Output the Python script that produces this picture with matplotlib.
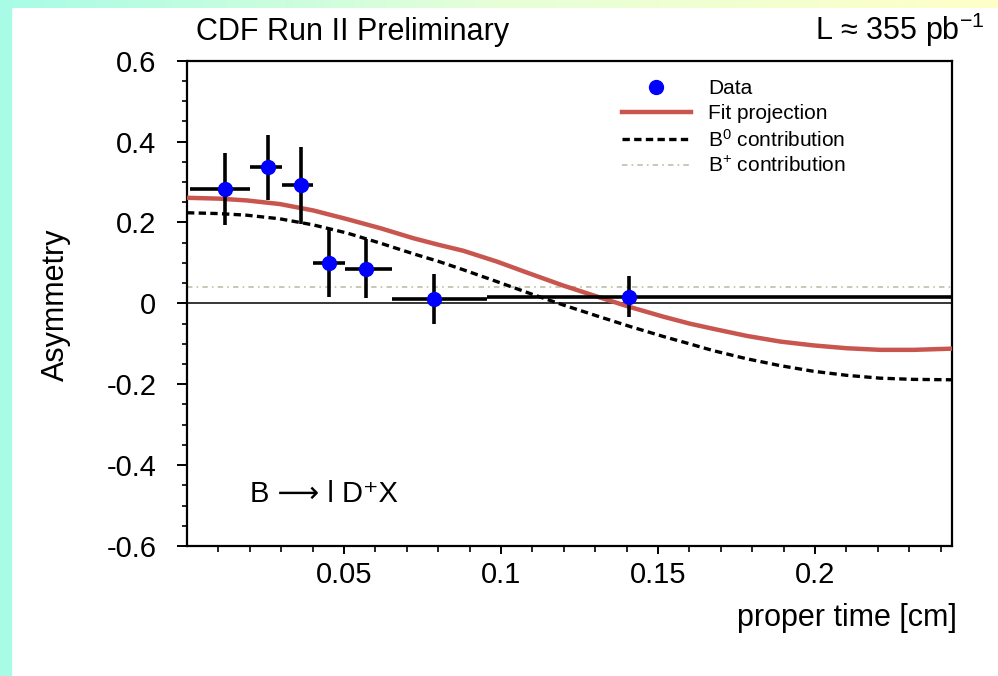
import matplotlib
matplotlib.use("Agg")
import matplotlib.pyplot as plt
import numpy as np
from matplotlib.lines import Line2D
from matplotlib.patches import Rectangle
from matplotlib.colors import LinearSegmentedColormap

plt.rcParams['font.family'] = ['Liberation Sans', 'DejaVu Sans']
plt.rcParams['mathtext.fontset'] = 'custom'
plt.rcParams['mathtext.rm'] = 'Liberation Sans'
plt.rcParams['mathtext.it'] = 'Liberation Sans:italic'

# measured points (proper time bins)
t = np.array([0.0121, 0.0259, 0.0362, 0.0453, 0.0570, 0.0787, 0.1407])
asym = np.array([0.283, 0.336, 0.292, 0.0995, 0.0854, 0.011, 0.0168])
asym_err = np.array([0.089, 0.080, 0.095, 0.085, 0.073, 0.061, 0.051])
t_lo = np.array([0.001, 0.0201, 0.0302, 0.0402, 0.0503, 0.0652, 0.0955])
t_hi = np.array([0.0201, 0.0302, 0.0402, 0.0503, 0.0652, 0.0955, 0.2436])

# curves
curve_t = [0.0, 0.010, 0.019, 0.0296, 0.0402, 0.0509, 0.0615, 0.0721, 0.080,
           0.088, 0.0986, 0.109, 0.1198, 0.1305, 0.141, 0.1517, 0.160, 0.1676,
           0.1782, 0.1889, 0.1995, 0.2101, 0.2207, 0.2313, 0.2436]
fit_proj = [0.261, 0.259, 0.2545, 0.2455, 0.2297, 0.2084, 0.186, 0.161, 0.145,
            0.130, 0.1035, 0.074, 0.044, 0.017, -0.009, -0.033, -0.050, -0.063,
            -0.0804, -0.0945, -0.104, -0.111, -0.115, -0.115, -0.112]
b0_contrib = [0.224, 0.222, 0.218, 0.209, 0.194, 0.174, 0.149, 0.1225, 0.104,
              0.083, 0.054, 0.025, -0.004, -0.031, -0.057, -0.082, -0.100, -0.117,
              -0.137, -0.154, -0.168, -0.178, -0.185, -0.188, -0.189]
bplus_t = [0.0, 0.2436]
bplus_contrib = [0.04, 0.04]

xticks = [0.05, 0.1, 0.15, 0.2]
xticklabels = ["0.05", "0.1", "0.15", "0.2"]
yticks = [-0.6, -0.4, -0.2, 0.0, 0.2, 0.4, 0.6]
yticklabels = ["-0.6", "-0.4", "-0.2", "0", "0.2", "0.4", "0.6"]

red = "#c9554f"
bplus_col = "#c4c4ae"
dash_b0 = (0, (2.2, 1.3))
dash_bplus = (0, (3, 2.3, 0.9, 2.3))

fig = plt.figure(figsize=(9.98, 6.76), dpi=100)
fig.patch.set_facecolor("white")

# slide decoration: cyan strip on the left, gradient strip on top
fig.patches.append(Rectangle((0, 0), 11 / 998, 1, transform=fig.transFigure,
                             color="#a8fce6", zorder=0))
bg = fig.add_axes([0, 1 - 8 / 676, 1, 8 / 676], zorder=0)
cmap = LinearSegmentedColormap.from_list("strip", ["#a8fce6", "#e6ffd8", "#ffffc8"])
bg.imshow(np.linspace(0, 1, 256).reshape(1, -1), aspect="auto", cmap=cmap)
bg.axis("off")

ax = fig.add_axes([187 / 998, 130 / 676, 765 / 998, 485.3 / 676])

ax.axhline(0, color="black", lw=1.1, zorder=1)
ax.plot(bplus_t, bplus_contrib, color=bplus_col, lw=1.3, linestyle=dash_bplus, zorder=2)
ax.plot(curve_t, b0_contrib, color="black", lw=2.4, linestyle=dash_b0, zorder=3)
ax.plot(curve_t, fit_proj, color=red, lw=3.2, zorder=4)
ax.errorbar(t, asym, xerr=[t - t_lo, t_hi - t], yerr=asym_err, fmt="o",
            color="#0000ff", ecolor="black", elinewidth=2.6, capsize=0,
            markersize=10, zorder=5)

ax.set_xlim(0, 0.2436)
ax.set_ylim(-0.6, 0.6)
ax.set_xticks(xticks)
ax.set_xticklabels(xticklabels)
ax.set_xticks(np.arange(0.01, 0.241, 0.01), minor=True)
ax.set_yticks(yticks)
ax.set_yticklabels(yticklabels)
ax.set_yticks(np.arange(-0.55, 0.6, 0.05), minor=True)
ax.tick_params(axis="x", which="major", direction="out", length=6, width=1.4,
               pad=4.5, labelsize=21)
ax.tick_params(axis="x", which="minor", direction="out", length=4, width=1.2)
ax.tick_params(axis="y", which="major", direction="out", length=7, width=1.4,
               pad=15, labelsize=21)
ax.tick_params(axis="y", which="minor", direction="out", length=3.6, width=1.2)
for s in ax.spines.values():
    s.set_linewidth(1.6)

# legend
handles = [
    Line2D([], [], marker="o", color="#0000ff", linestyle="none", markersize=10),
    Line2D([], [], color=red, lw=3.2),
    Line2D([], [], color="black", lw=2.4, linestyle=dash_b0),
    Line2D([], [], color=bplus_col, lw=1.3, linestyle=dash_bplus),
]
labels = ["Data", "Fit projection", "B$^{0}$ contribution", "B$^{+}$ contribution"]
ax.legend(handles, labels, loc="upper left", bbox_to_anchor=(622 / 998, 1 - 79 / 676),
          bbox_transform=fig.transFigure, frameon=False, fontsize=15,
          handlelength=3.3, handletextpad=0.85, labelspacing=0.28,
          borderpad=0, borderaxespad=0)

ax.text(0.082, 0.107, "B \u27f6 l D\u207aX", transform=ax.transAxes,
        fontsize=21, ha="left", va="center")

fig.text(196 / 998, 1 - 40 / 676, "CDF Run II Preliminary", fontsize=22,
         ha="left", va="baseline")
fig.text(985 / 998, 1 - 40 / 676, "L \u2248 355 pb$^{-1}$", fontsize=22,
         ha="right", va="baseline")
fig.text(957 / 998, 1 - 626 / 676, "proper time [cm]", fontsize=22,
         ha="right", va="baseline")
fig.text(56 / 998, 1 - 305 / 676, "Asymmetry", fontsize=22, rotation=90,
         ha="center", va="center")

fig.savefig("out.png", dpi=100)
